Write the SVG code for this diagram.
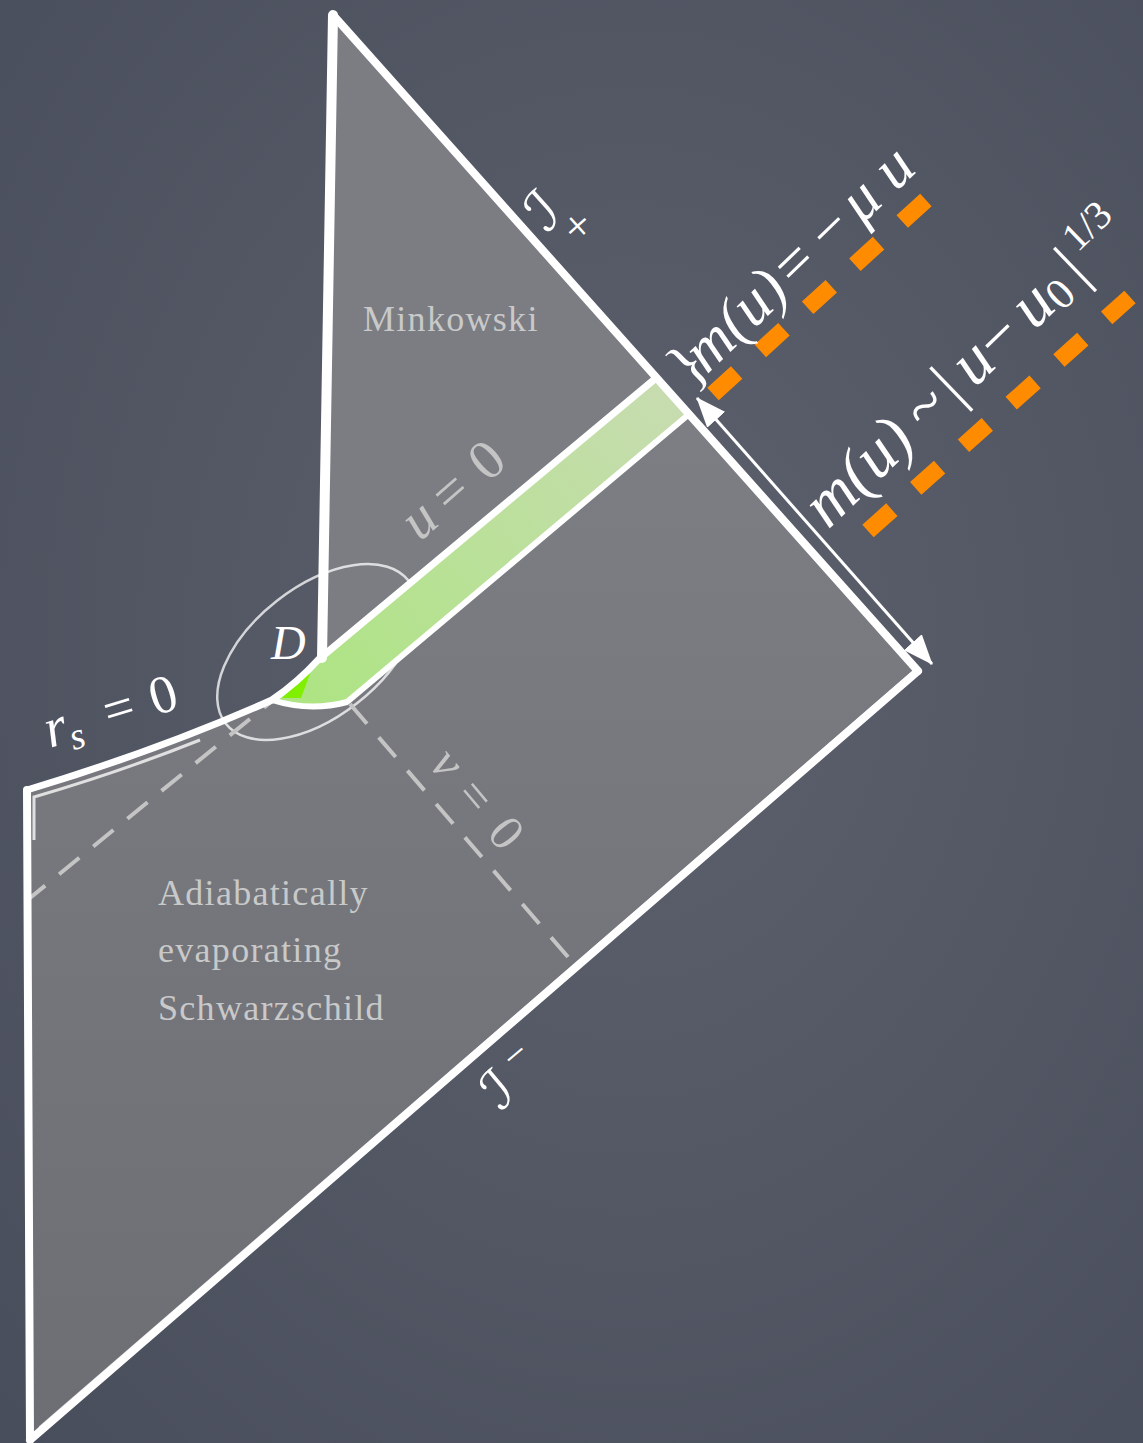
<svg xmlns="http://www.w3.org/2000/svg" width="1143" height="1443" viewBox="0 0 1143 1443">
<defs>
<radialGradient id="bg" cx="0.55" cy="0.45" r="0.8">
<stop offset="0" stop-color="#5d616d"/>
<stop offset="1" stop-color="#484d5b"/>
</radialGradient>
<linearGradient id="reg" x1="0" y1="0" x2="0" y2="1">
<stop offset="0" stop-color="#7c7e84"/>
<stop offset="1" stop-color="#6c6e74"/>
</linearGradient>
<linearGradient id="strip" gradientUnits="userSpaceOnUse" x1="670" y1="395" x2="300" y2="690">
<stop offset="0" stop-color="#c7dcb0"/>
<stop offset="1" stop-color="#aee484"/>
</linearGradient>
<marker id="ah" viewBox="0 0 30 24" refX="29" refY="12" markerWidth="30" markerHeight="24" markerUnits="userSpaceOnUse" orient="auto-start-reverse">
<path d="M0,0 L30,12 L0,24 Z" fill="#fff"/>
</marker>
<style>
.edge{stroke:#fff;fill:none;stroke-linejoin:round;stroke-linecap:round}
.dash{stroke:#c4c4c4;stroke-width:4;stroke-dasharray:26 18;fill:none}
.lbl{fill:#c9c9c9;font-family:"Liberation Serif",serif;font-size:36px;letter-spacing:1.3px}
.m{fill:#fff;font-family:"Liberation Serif",serif;font-style:italic}
.mg{fill:#c4c4c4;font-family:"Liberation Serif",serif;font-style:italic}
.up{font-style:normal}
.scr{fill:#fff;font-family:"DejaVu Serif","DejaVu Sans",serif;font-style:italic}
.org{stroke:#ff8c00;stroke-width:17;stroke-dasharray:32 32;fill:none}
</style>
</defs>
<rect width="1143" height="1443" fill="url(#bg)"/>

<g id="schwarzschild-region">
<path d="M27,790 Q160,750 272,700 Q310,712 347,702 L688,415 L918,671 L30,1440 Z" fill="url(#reg)"/>
</g>
<g id="minkowski-region">
<path d="M333,15 L656,378 L318,660 Z" fill="#7b7d83"/>
</g>

<g id="ellipse-D">
<ellipse cx="317" cy="652" rx="116" ry="65" transform="rotate(-38 317 652)" fill="none" stroke="#fff" stroke-opacity="0.75" stroke-width="2.5"/>
</g>

<g id="strip-u0">
<path d="M656,378 L688,415 L347,702 Q310,712 272,700 Q298,682 318,660 Z" fill="url(#strip)"/>
<path d="M282,698 L313,666 L301,698 Z" fill="#80f000"/>
</g>

<g id="connectors">
<line class="dash" x1="25" y1="902" x2="272" y2="701"/>
<line class="dash" x1="350" y1="704" x2="574" y2="964"/>
<line x1="40" y1="1428" x2="912" y2="674" stroke="#c8c8c8" stroke-width="4"/>
<path d="M34,840 L34,797 Q120,772 200,740" stroke="#e0e0e0" stroke-width="3" fill="none"/>
<path class="edge" d="M27,790 Q160,750 272,700 Q298,682 318,660 L656,378" stroke-width="7"/>
<path class="edge" d="M272,700 Q310,712 347,702 L688,415" stroke-width="6"/>
<line class="edge" x1="333" y1="15" x2="322" y2="658" stroke-width="10"/>
<line class="edge" x1="333" y1="15" x2="918" y2="671" stroke-width="8"/>
<line class="edge" x1="918" y1="671" x2="30" y2="1440" stroke-width="8"/>
<line class="edge" x1="27" y1="790" x2="30" y2="1440" stroke-width="8"/>
<line x1="697" y1="398" x2="932" y2="664" stroke="#fff" stroke-width="3" marker-start="url(#ah)" marker-end="url(#ah)"/>
<line class="org" x1="713" y1="394" x2="927" y2="199"/>
<line class="org" x1="868" y1="531" x2="1130" y2="297"/>
</g>

<g id="labels">
<text class="lbl" x="363" y="331">Minkowski</text>
<text class="lbl" x="158" y="905">Adiabatically</text>
<text class="lbl" x="158" y="962">evaporating</text>
<text class="lbl" x="158" y="1020">Schwarzschild</text>
<text class="m" font-size="48" x="271" y="659">D</text>
<g transform="translate(50,748) rotate(-17)">
<text class="m" font-size="56" x="0" y="0">r<tspan font-size="38" dy="9">s</tspan></text>
<text class="m up" font-size="54" x="62" y="0">=</text>
<text class="m up" font-size="54" x="110" y="0">0</text>
</g>
<g transform="translate(420,542) rotate(-41)">
<text class="mg" font-size="56" x="0" y="0">u</text>
<text class="mg up" font-size="56" x="40" y="0">=</text>
<text class="mg up" font-size="56" x="90" y="0">0</text>
</g>
<g transform="translate(428,765) rotate(50)">
<text class="mg" font-size="50" x="0" y="0">v</text>
<text class="mg up" font-size="50" x="40" y="0">=</text>
<text class="mg up" font-size="50" x="90" y="0">0</text>
</g>
<text class="scr" font-size="56" transform="translate(546,234) rotate(-42)">ℐ</text>
<text class="m up" font-size="46" transform="translate(578,246) rotate(-42)">+</text>
<text class="scr" font-size="54" transform="translate(500,1112) rotate(-40)">ℐ</text>
<text class="m up" font-size="40" transform="translate(515,1072) rotate(-40)">−</text>
<g transform="translate(691,390) rotate(-44)">
<text class="m up" font-size="62" x="0" y="0">}</text>
<text class="m" font-size="62" x="22" y="0">m(u)</text>
<text class="m up" font-size="62" x="145" y="0">=</text>
<text class="m up" font-size="62" x="194" y="0">−</text>
<text class="m" font-size="62" x="238" y="0">μ</text>
<text class="m" font-size="62" x="285" y="0">u</text>
</g>
<g transform="translate(828,530) rotate(-44)">
<text class="m" font-size="66" x="0" y="0">m(u)</text>
<text class="m up" font-size="66" x="138" y="0">~</text>
<text class="m up" font-size="66" x="180" y="0">|</text>
<text class="m" font-size="66" x="204" y="0">u</text>
<text class="m up" font-size="66" x="238" y="0">−</text>
<text class="m" font-size="66" x="287" y="0">u</text>
<text class="m up" font-size="44" x="320" y="6">0</text>
<text class="m up" font-size="66" x="352" y="0">|</text>
<text class="m up" font-size="40" x="372" y="-26">1/3</text>
</g>
</g>
</svg>
